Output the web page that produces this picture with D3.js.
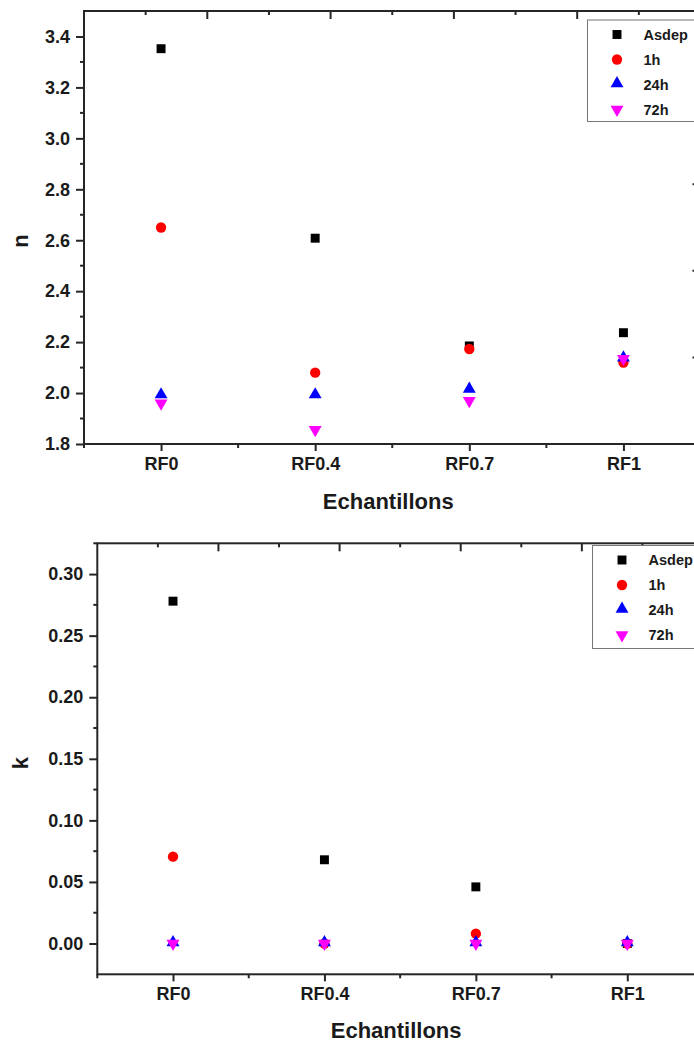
<!DOCTYPE html>
<html><head><meta charset="utf-8">
<script src="https://cdn.jsdelivr.net/npm/d3@7"></script>
<style>
html,body{margin:0;padding:0;background:#fff;overflow:hidden;}
text{font-family:"Liberation Sans",Arial,sans-serif;font-weight:bold;fill:#1a1a1a;}
</style></head>
<body>
<svg id="chart" width="694" height="1044"></svg>
<script>
const categories = ["RF0", "RF0.4", "RF0.7", "RF1"];
const seriesNames = ["Asdep", "1h", "24h", "72h"];
const seriesColors = ["#000000", "#ff0000", "#0000ff", "#ff00ff"];
const nAsdep = [3.352, 2.608, 2.185, 2.237];
const n1h    = [2.65, 2.08, 2.173, 2.12];
const n24h   = [1.99, 1.99, 2.012, 2.135];
const n72h   = [1.96, 1.856, 1.97, 2.135];
const kAsdep = [0.278, 0.068, 0.046, 0.0];
const k1h    = [0.0705, 0.0, 0.008, 0.0];
const k24h   = [0.0, 0.0, 0.0, 0.0];
const k72h   = [0.0, 0.0, 0.0, 0.0];
const nTicks = [1.8, 2.0, 2.2, 2.4, 2.6, 2.8, 3.0, 3.2, 3.4];
const kTicks = [0.00, 0.05, 0.10, 0.15, 0.20, 0.25, 0.30];

const svg = d3.select("#chart");
const axisColor = "#262626";

function symbolFor(i){
  if(i===0) return d3.symbol().type(d3.symbolSquare).size(80);
  if(i===1) return d3.symbol().type(d3.symbolCircle).size(84);
  return d3.symbol().type(d3.symbolTriangle).size(72);
}
function drawMarker(g, i, x, y){
  const p = g.append("path").attr("d", symbolFor(i)()).attr("fill", seriesColors[i]);
  if(i===3) p.attr("transform", `translate(${x},${y}) rotate(180)`);
  else if(i===2) p.attr("transform", `translate(${x},${y-1})`);
  else p.attr("transform", `translate(${x},${y})`);
}

function panel(cfg){
  const g = svg.append("g");
  const x = d3.scaleLinear().domain([-0.5, 3.5]).range([cfg.left, cfg.right]);
  const y = d3.scaleLinear().domain(cfg.yDomain).range([cfg.bottom, cfg.top]);

  const yAx = g.append("g").attr("transform", `translate(${cfg.left},0)`)
    .call(d3.axisLeft(y).tickValues(cfg.yTicks).tickFormat(cfg.fmt).tickSize(8).tickPadding(6));
  yAx.select(".domain").remove();
  yAx.selectAll("line").attr("stroke", axisColor).attr("stroke-width", 2);
  yAx.selectAll("text").attr("font-size", 18).attr("fill", "#1a1a1a");
  const step = cfg.yTicks[1]-cfg.yTicks[0];
  const minors = [];
  for(let v = cfg.yTicks[0]-step/2; v < cfg.yDomain[1]; v += step){ if(v>cfg.yDomain[0]) minors.push(v); }
  g.selectAll(null).data(minors).enter().append("line")
    .attr("x1", cfg.left-4).attr("x2", cfg.left).attr("y1", d=>y(d)).attr("y2", d=>y(d))
    .attr("stroke", axisColor).attr("stroke-width", 2);

  const xAx = g.append("g").attr("transform", `translate(0,${cfg.bottom})`)
    .call(d3.axisBottom(x).tickValues([0,1,2,3]).tickFormat(i=>categories[i]).tickSize(7).tickPadding(6));
  xAx.select(".domain").remove();
  xAx.selectAll("line").attr("stroke", axisColor).attr("stroke-width", 2);
  xAx.selectAll("text").attr("font-size", 18).attr("fill", "#1a1a1a");
  g.selectAll(null).data([-0.5,0.5,1.5,2.5]).enter().append("line")
    .attr("x1", d=>x(d)).attr("x2", d=>x(d)).attr("y1", cfg.bottom).attr("y2", cfg.bottom+4)
    .attr("stroke", axisColor).attr("stroke-width", 2);

  const xt = d3.scaleLinear().domain([0,10]).range([cfg.left, cfg.right]);
  g.selectAll(null).data(d3.range(1,10)).enter().append("line")
    .attr("x1", d=>xt(d)).attr("x2", d=>xt(d)).attr("y1", cfg.top).attr("y2", d=> cfg.top + (d%2===0?8:4))
    .attr("stroke", axisColor).attr("stroke-width", 2);
  const yr = d3.scaleLinear().domain([0,10]).range([cfg.bottom, cfg.top]);
  g.selectAll(null).data(d3.range(1,10)).enter().append("line")
    .attr("y1", d=>yr(d)).attr("y2", d=>yr(d)).attr("x1", cfg.right).attr("x2", d=> cfg.right - (d%2===0?8:4))
    .attr("stroke", axisColor).attr("stroke-width", 2);

  g.append("rect").attr("x", cfg.left).attr("y", cfg.top)
    .attr("width", cfg.right-cfg.left).attr("height", cfg.bottom-cfg.top)
    .attr("fill", "none").attr("stroke", axisColor).attr("stroke-width", 2);

  cfg.series.forEach((vals, si) => {
    vals.forEach((v, ci) => drawMarker(g, si, x(ci), y(v)));
  });

  const lg = g.append("g");
  lg.append("rect").attr("x", cfg.legX).attr("y", cfg.legY).attr("width", 140).attr("height", cfg.legH)
    .attr("fill", "#fff").attr("stroke", "#777").attr("stroke-width", 1);
  seriesNames.forEach((name, i) => {
    const yy = cfg.legY + 14.5 + i*25;
    drawMarker(lg, i, cfg.legX + 29.5, yy);
    lg.append("text").attr("x", cfg.legX + 56).attr("y", yy).attr("dy", "0.36em")
      .attr("font-size", 14.5).text(name);
  });

  g.append("text").attr("x", (cfg.left+cfg.right)/2 - 4).attr("y", cfg.xTitleY)
    .attr("text-anchor", "middle").attr("font-size", 22).text("Echantillons");
  g.append("text").attr("transform", `translate(${cfg.yTitleX},${cfg.yTitleY}) rotate(-90)`)
    .attr("text-anchor", "middle").attr("font-size", 22).text(cfg.yTitle);
}

panel({
  left: 84, right: 700.5, top: 11, bottom: 444,
  yDomain: [1.8, 3.5], yTicks: nTicks, fmt: d3.format(".1f"),
  series: [nAsdep, n1h, n24h, n72h],
  legX: 587.5, legY: 20, legH: 101.5,
  xTitleY: 509, yTitle: "n", yTitleX: 28, yTitleY: 241
});
panel({
  left: 97.3, right: 703, top: 543.3, bottom: 974.3,
  yDomain: [-0.025, 0.325], yTicks: kTicks, fmt: d3.format(".2f"),
  series: [kAsdep, k1h, k24h, k72h],
  legX: 592.5, legY: 545.5, legH: 103,
  xTitleY: 1038, yTitle: "k", yTitleX: 28, yTitleY: 763
});
</script>
</body></html>
